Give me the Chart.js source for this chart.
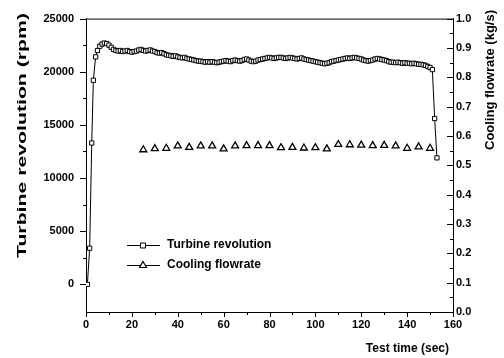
<!DOCTYPE html>
<html><head><meta charset="utf-8">
<script src="https://cdn.jsdelivr.net/npm/chart.js@4/dist/chart.umd.min.js"></script>
<style>html,body{margin:0;padding:0;background:#fff}#wrap{width:504px;height:358px;position:relative}</style>
</head><body><div id="wrap"><canvas id="c" width="504" height="358"></canvas></div>
<script>
const timeSec = [0.6,1.6,2.5,3.2,4.2,
5,6,7,8,9,10,11,12,13,14,
15,16,17,18,19,20,21,22,23,24,
25,26,27,28,29,30,31,32,33,34,
35,36,37,38,39,40,41,42,43,44,
45,46,47,48,49,50,51,52,53,54,
55,56,57,58,59,60,61,62,63,64,
65,66,67,68,69,70,71,72,73,74,
75,76,77,78,79,80,81,82,83,84,
85,86,87,88,89,90,91,92,93,94,
95,96,97,98,99,100,101,102,103,104,
105,106,107,108,109,110,111,112,113,114,
115,116,117,118,119,120,121,122,123,124,
125,126,127,128,129,130,131,132,133,134,
135,136,137,138,139,140,141,142,143,144,
145,146,147,148,149,150,151,152,153];
const turbineRpm = [0,3400,13300,19200,21400,
22000,22400,22600,22700,22650,22500,22300,22100,22000,21950,
22000,21900,21950,22000,21900,21850,21900,21950,22050,22100,
22000,21950,22000,22050,21950,21900,21800,21750,21800,21700,
21600,21550,21500,21450,21500,21400,21350,21300,21350,21250,
21200,21150,21100,21050,21000,21000,20950,20900,20950,20900,
20950,20900,20850,20900,20950,21000,21050,21000,20950,21050,
21100,21050,21000,21050,21150,21200,21100,21000,20950,21000,
21100,21150,21200,21250,21300,21350,21300,21250,21300,21350,
21350,21300,21250,21300,21350,21300,21250,21200,21250,21300,
21200,21150,21100,21050,21000,20950,20900,20850,20800,20750,
20800,20850,20950,21000,21050,21100,21150,21200,21250,21300,
21250,21300,21350,21300,21250,21200,21100,21050,21000,21050,
21100,21200,21250,21200,21150,21100,21050,20950,20900,20900,
20850,20900,20850,20800,20850,20800,20800,20750,20800,20750,
20700,20700,20650,20600,20500,20400,20200,15600,11900];
const flowTime = [25,30,35,40,45,50,55,60,65,70,75,80,85,90,95,100,105,110,115,120,125,130,135,140,145,150];
const coolingFlow = [0.553,0.557,0.558,0.566,0.561,0.566,0.566,0.556,0.566,0.567,0.567,0.567,0.560,0.561,0.559,0.560,0.556,0.571,0.570,0.569,0.567,0.568,0.566,0.558,0.563,0.558];
const xTicks = [0,20,40,60,80,100,120,140,160];
const xMinor = [10,30,50,70,90,110,130,150];
const yTicks = [0,5000,10000,15000,20000,25000];
const yMinor = [2500,7500,12500,17500,22500];
const y1Ticks = [0,0.1,0.2,0.3,0.4,0.5,0.6,0.7,0.8,0.9,1.0];
const y1Minor = [0.05,0.15,0.25,0.35,0.45,0.55,0.65,0.75,0.85,0.95];
const seriesNames = ['Turbine revolution','Cooling flowrate'];
const xTitle = 'Test time (sec)';
const yTitle = 'Turbine revolution (rpm)';
const y1Title = 'Cooling flowrate (kg/s)';

const FONT = "'Liberation Sans', Arial, sans-serif";
const tickFont = {family: FONT, size: 11, weight: 'bold'};

const turbinePts = timeSec.map((t,i)=>({x:t, y:turbineRpm[i]}));
const flowPts = flowTime.map((t,i)=>({x:t, y:coolingFlow[i]}));

function vText(ctx, text, cx, top, len){
  const w = ctx.measureText(text).width;
  ctx.save(); ctx.translate(cx, top); ctx.rotate(-Math.PI/2);
  ctx.scale(len / w, 1);
  ctx.textAlign = 'right'; ctx.textBaseline = 'middle';
  ctx.fillText(text, 0, 0);
  ctx.restore();
}

const decor = {
  id:'decor',
  afterDraw(chart){
    const ctx = chart.ctx, ca = chart.chartArea;
    const sx = chart.scales.x, sy = chart.scales.y, sy1 = chart.scales.y1;
    ctx.save();
    ctx.strokeStyle = '#000'; ctx.lineWidth = 1;
    ctx.beginPath(); ctx.moveTo(ca.left, ca.top+0.5); ctx.lineTo(ca.right, ca.top+0.5); ctx.stroke();
    ctx.beginPath();
    xTicks.forEach(v=>{const p=Math.round(sx.getPixelForValue(v))+0.5; ctx.moveTo(p, ca.bottom); ctx.lineTo(p, ca.bottom+5);});
    xMinor.forEach(v=>{const p=Math.round(sx.getPixelForValue(v))+0.5; ctx.moveTo(p, ca.bottom); ctx.lineTo(p, ca.bottom+3);});
    yTicks.forEach(v=>{const p=Math.round(sy.getPixelForValue(v))+0.5; ctx.moveTo(ca.left, p); ctx.lineTo(ca.left-6, p);});
    yMinor.forEach(v=>{const p=Math.round(sy.getPixelForValue(v))+0.5; ctx.moveTo(ca.left, p); ctx.lineTo(ca.left-3, p);});
    y1Ticks.forEach(v=>{const p=Math.round(sy1.getPixelForValue(v))+0.5; ctx.moveTo(ca.right, p); ctx.lineTo(ca.right-6, p);});
    y1Minor.forEach(v=>{const p=Math.round(sy1.getPixelForValue(v))+0.5; ctx.moveTo(ca.right, p); ctx.lineTo(ca.right-3, p);});
    ctx.stroke();
    ctx.fillStyle = '#000';
    ctx.font = "bold 12px " + FONT;
    ctx.textBaseline = 'middle';
    ctx.textAlign = 'right';
    ctx.fillText(xTitle, 449, 349);
    ctx.font = "bold 13px " + FONT;
    vText(ctx, yTitle, 22, 13, 245);
    vText(ctx, y1Title, 490, 10, 140);
    const rows = [245, 265];
    ctx.textAlign = 'left'; ctx.textBaseline = 'middle';
    ctx.font = "bold 12px " + FONT;
    rows.forEach((ry,i)=>{
      ctx.beginPath(); ctx.moveTo(127, ry+0.5); ctx.lineTo(160, ry+0.5); ctx.stroke();
      ctx.fillStyle = '#fff';
      if(i===0){
        ctx.beginPath(); ctx.rect(140.5, ry-2, 5, 5); ctx.fill(); ctx.stroke();
      } else {
        ctx.lineWidth = 1.2;
        ctx.beginPath(); ctx.moveTo(143, ry-3.5); ctx.lineTo(146.5, ry+2.5); ctx.lineTo(139.5, ry+2.5); ctx.closePath(); ctx.fill(); ctx.stroke();
        ctx.lineWidth = 1;
      }
      ctx.fillStyle = '#000';
      ctx.fillText(seriesNames[i], 167, ry);
    });
    ctx.restore();
  }
};

new Chart(document.getElementById('c'), {
  type: 'scatter',
  data: {
    datasets: [
      {label: seriesNames[0], data: turbinePts, yAxisID: 'y', showLine: true,
       borderColor: '#000', borderWidth: 1, backgroundColor: '#fff',
       pointStyle: 'rect', pointRadius: 3, pointBorderWidth: 1, pointBackgroundColor: '#fff', pointBorderColor: '#000'},
      {label: seriesNames[1], data: flowPts, yAxisID: 'y1', showLine: false,
       pointStyle: 'triangle', pointRadius: 4, pointBorderWidth: 1.3, pointBackgroundColor: '#fff', pointBorderColor: '#000'}
    ]
  },
  options: {
    responsive: false, animation: false, devicePixelRatio: 1,
    layout: {padding: {top: 14, left: 0, right: 0, bottom: 0}},
    plugins: {legend: {display: false}, tooltip: {enabled: false}},
    scales: {
      x: {type: 'linear', position: 'bottom', min: 0, max: 160,
          afterBuildTicks: s => { s.ticks = xTicks.map(v => ({value: v})); },
          afterFit: s => { s.height = 46; },
          grid: {display: false, drawTicks: false},
          border: {display: true, color: '#000', width: 1},
          ticks: {color: '#000', font: tickFont, padding: 6, maxRotation: 0, autoSkip: false, callback: v => String(v)}},
      y: {type: 'linear', position: 'left', min: -2600, max: 25000,
          afterBuildTicks: s => { s.ticks = yTicks.map(v => ({value: v})); },
          afterFit: s => { s.width = 86; },
          grid: {display: false, drawTicks: false},
          border: {display: true, color: '#000', width: 1},
          ticks: {color: '#000', font: tickFont, padding: 12, autoSkip: false, callback: v => String(v)}},
      y1: {type: 'linear', position: 'right', min: 0, max: 1,
          afterBuildTicks: s => { s.ticks = y1Ticks.map(v => ({value: v})); },
          afterFit: s => { s.width = 51; },
          grid: {display: false, drawTicks: false},
          border: {display: true, color: '#000', width: 1},
          ticks: {color: '#000', font: tickFont, padding: 3, autoSkip: false, callback: v => Number(v).toFixed(1)}}
    }
  },
  plugins: [decor]
});
</script>
</body></html>
